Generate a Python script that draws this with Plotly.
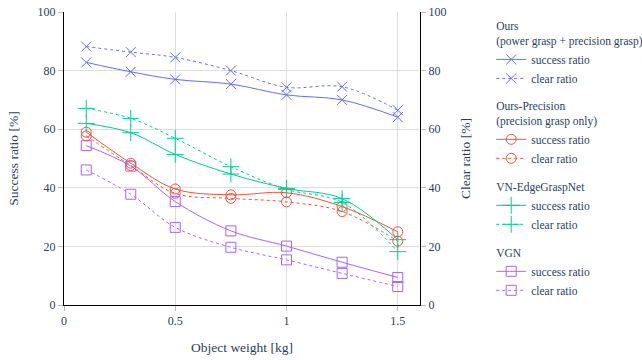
import plotly.graph_objects as go

weights = [0.1, 0.3, 0.5, 0.75, 1.0, 1.25, 1.5]

ours_success = [82.8, 79.6, 77.0, 75.4, 71.7, 70.0, 64.1]
ours_clear = [88.2, 86.3, 84.5, 80.0, 74.3, 74.5, 66.5]

prec_success = [59.0, 48.4, 39.6, 37.6, 38.3, 33.6, 25.0]
prec_clear = [57.7, 47.6, 38.1, 36.4, 35.2, 31.9, 21.8]

vn_success = [62.0, 58.8, 51.4, 44.7, 39.8, 36.3, 22.3]
vn_clear = [67.1, 63.7, 56.9, 47.2, 39.5, 35.0, 18.2]

vgn_success = [54.4, 47.4, 35.3, 25.3, 20.1, 14.6, 9.4]
vgn_clear = [46.1, 37.8, 26.5, 19.7, 15.4, 10.8, 6.3]

groups = [
    ("Ours", "Ours<br>(power grasp + precision grasp)", "#636EFA", "x-thin-open", 10, ours_success, ours_clear),
    ("Prec", "Ours-Precision<br>(precision grasp only)", "#EF553B", "circle-open", 10, prec_success, prec_clear),
    ("VN", "VN-EdgeGraspNet", "#00CC96", "cross-thin-open", 12, vn_success, vn_clear),
    ("VGN", "VGN", "#AB63FA", "square-open", 10, vgn_success, vgn_clear),
]

fig = go.Figure()
for gid, title, color, sym, msize, succ, clr in groups:
    fig.add_trace(go.Scatter(
        x=weights, y=succ, mode="lines+markers", name="success ratio",
        legendgroup=gid, legendgrouptitle_text=title,
        line=dict(color=color, width=1, shape="spline"),
        marker=dict(symbol=sym, size=msize, color=color, line=dict(color=color, width=1)),
        yaxis="y",
    ))
    fig.add_trace(go.Scatter(
        x=weights, y=clr, mode="lines+markers", name="clear ratio",
        legendgroup=gid,
        line=dict(color=color, width=1, dash="3px,3px", shape="spline"),
        marker=dict(symbol=sym, size=msize, color=color, line=dict(color=color, width=1)),
        yaxis="y2",
    ))

font = "Liberation Serif"
tickfont = dict(family=font, size=12, color="#2a3f5f")
fig.update_layout(
    template="plotly_white",
    width=642, height=360,
    margin=dict(l=64, r=222, t=12, b=55, autoexpand=False),
    font=dict(family=font, size=12, color="#2a3f5f"),
    xaxis=dict(
        title=dict(text="Object weight [kg]", font=dict(family=font, size=13.5)),
        range=[0, 1.6], tickvals=[0, 0.5, 1, 1.5], ticktext=["0", "0.5", "1", "1.5"],
        tickfont=tickfont,
        showline=True, linecolor="black", linewidth=1, ticks="outside", ticklen=5,
        tickcolor="#bbbbbb", showgrid=True, gridcolor="#dddddd", zeroline=False,
        automargin=False,
    ),
    yaxis=dict(
        title=dict(text="Success ratio [%]", font=dict(family=font, size=13.5)),
        range=[0, 100], dtick=20, ticklabeloverflow="allow", tickfont=tickfont,
        showline=True, linecolor="black", linewidth=1, ticks="outside", ticklen=5,
        tickcolor="#bbbbbb", showgrid=True, gridcolor="#dddddd", zeroline=False,
        automargin=False,
    ),
    yaxis2=dict(
        title=dict(text="Clear ratio [%]", font=dict(family=font, size=13.5)),
        range=[0, 100], dtick=20, overlaying="y", side="right", anchor="x",
        ticklabeloverflow="allow", tickfont=tickfont,
        showline=True, linecolor="black", linewidth=1, ticks="outside", ticklen=5,
        tickcolor="#bbbbbb", showgrid=False, zeroline=False,
        automargin=False,
    ),
    legend=dict(
        x=1.2, xanchor="left", y=1.0, yanchor="top",
        traceorder="grouped", tracegroupgap=9,
        font=dict(family=font, size=11.5), grouptitlefont=dict(family=font, size=11.5),
    ),
)

fig.write_html(
    "out.html",
    config={"displayModeBar": False},
    post_script="document.body.style.margin='0px'; document.body.style.overflow='hidden';",
)
